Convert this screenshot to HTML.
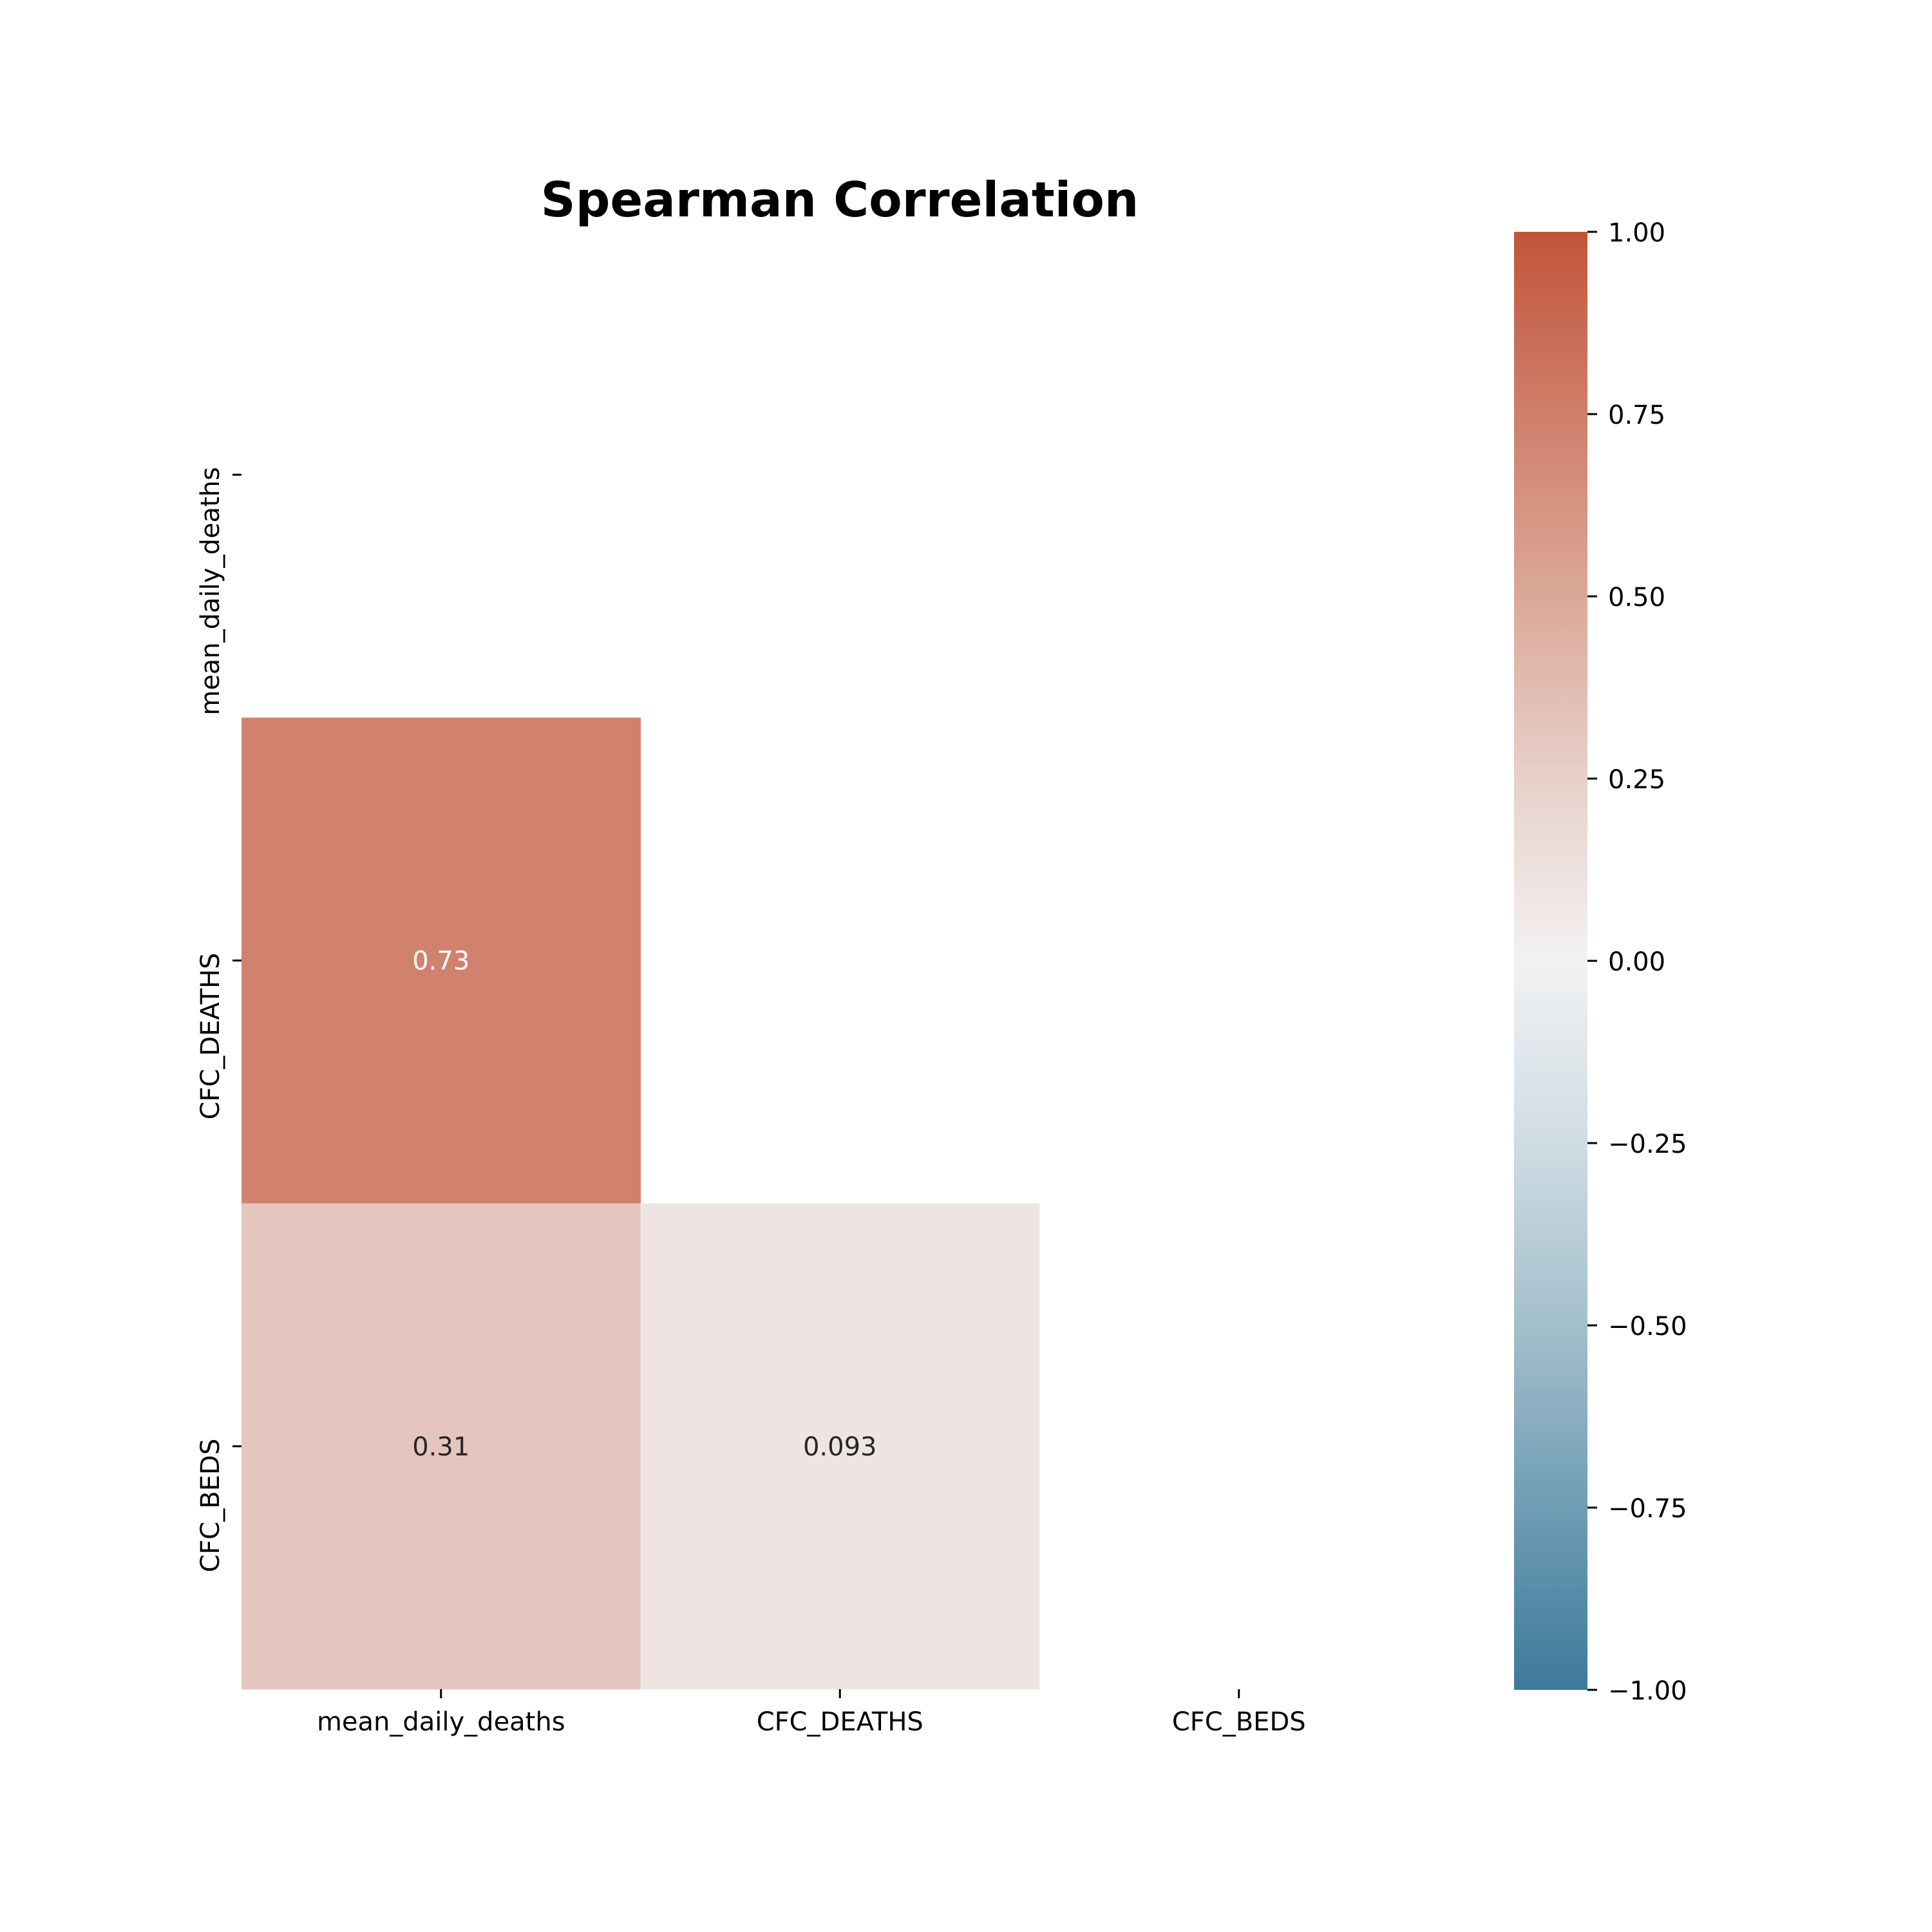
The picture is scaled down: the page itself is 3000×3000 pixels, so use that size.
<!DOCTYPE html>
<html><head><meta charset="utf-8"><style>
html,body{margin:0;padding:0;background:#fff;}
svg{display:block;font-family:"DejaVu Sans","Liberation Sans",sans-serif;}
</style></head>
<body>
<svg id="chart" width="3000" height="3000" viewBox="0 0 3000 3000" xmlns="http://www.w3.org/2000/svg">
<rect width="3000" height="3000" fill="#fff"/>
<text x="1304" y="336" text-anchor="middle" font-size="75" font-weight="bold" fill="#000">Spearman Correlation</text>
<defs>
<linearGradient id="cbgrad" x1="0" y1="1" x2="0" y2="0">
<stop offset="0" stop-color="#3d7a9a"/>
<stop offset="0.125" stop-color="#6f9db4"/>
<stop offset="0.25" stop-color="#a3bfcc"/>
<stop offset="0.375" stop-color="#cfdce3"/>
<stop offset="0.5" stop-color="#f2f2f2"/>
<stop offset="0.625" stop-color="#e8d0ca"/>
<stop offset="0.75" stop-color="#dba897"/>
<stop offset="0.875" stop-color="#cf7f6b"/>
<stop offset="1" stop-color="#c2553a"/>
</linearGradient>
</defs>
<g id="cells"></g>
<g id="axes"></g>
<g id="colorbar"></g>
</svg>
<script>
const labels = ["mean_daily_deaths", "CFC_DEATHS", "CFC_BEDS"];
const cellRows = [1, 2, 2];
const cellCols = [0, 0, 1];
const cellValues = [0.73, 0.31, 0.093];
const cellText = ["0.73", "0.31", "0.093"];
const cbTicks = [1.0, 0.75, 0.5, 0.25, 0, -0.25, -0.5, -0.75, -1.0];
const cbTickLabels = ["1.00", "0.75", "0.50", "0.25", "0.00", "\u22120.25", "\u22120.50", "\u22120.75", "\u22121.00"];

const NS = "http://www.w3.org/2000/svg";
const gx0 = 375, gy0 = 360, cw = 619.5, ch = 754.3;
const cbx = 2351, cbw = 114, cby0 = 360, cby1 = 2624;
function xPos(c){ return gx0 + c * cw; }
function yPos(r){ return gy0 + r * ch; }
function cbY(v){ return cby1 - (v + 1) / 2 * (cby1 - cby0); }

const stops = [[-1,[61,122,154]],[-0.75,[111,157,180]],[-0.5,[163,191,204]],[-0.25,[207,220,227]],[0,[242,242,242]],[0.25,[232,208,202]],[0.5,[219,168,151]],[0.75,[207,127,107]],[1,[194,85,58]]];
function color(v){
  for (let i=0;i<stops.length-1;i++){
    const a=stops[i], b=stops[i+1];
    if (v>=a[0] && v<=b[0]){
      const t=(v-a[0])/(b[0]-a[0]);
      const c=a[1].map((x,k)=>Math.round(x+(b[1][k]-x)*t));
      return "rgb("+c.join(",")+")";
    }
  }
  return v>0?"rgb(194,85,58)":"rgb(61,122,154)";
}
function mk(tag, attrs, parent){
  const el=document.createElementNS(NS,tag);
  for (const k in attrs) el.setAttribute(k, attrs[k]);
  parent.appendChild(el);
  return el;
}
const cells=document.getElementById("cells");
cellValues.forEach((v,i)=>{
  const r=mk("rect",{x:xPos(cellCols[i]),y:yPos(cellRows[i]),width:cw+0.5,height:ch+0.5,fill:color(v)},cells);
  
  
  const t=mk("text",{x:xPos(cellCols[i])+cw/2,y:yPos(cellRows[i])+ch/2+14,"text-anchor":"middle","font-size":40,fill:(v>0.5?"#ffffff":"#262626")},cells);
  t.textContent=cellText[i];
  
  
});
const axes=document.getElementById("axes");
labels.forEach((lab,i)=>{
  const cx=xPos(i)+cw/2;
  const tk=mk("line",{x1:cx,y1:gy0+3*ch,x2:cx,y2:gy0+3*ch+14,stroke:"#000","stroke-width":3},axes);
  
  
  const t=mk("text",{x:cx,y:2687,"text-anchor":"middle","font-size":40,fill:"#000"},axes);
  t.textContent=lab;
  
  
  const cy=yPos(i)+ch/2;
  const tk2=mk("line",{x1:gx0-14,y1:cy,x2:gx0,y2:cy,stroke:"#000","stroke-width":3},axes);
  
  
  const t2=mk("text",{x:0,y:0,"text-anchor":"end","font-size":40,fill:"#000",transform:"translate(340,"+(cy-12)+") rotate(-90)"},axes);
  t2.textContent=lab;
  
  
});
const cb=document.getElementById("colorbar");
const bar=mk("rect",{x:cbx,y:cby0,width:cbw,height:cby1-cby0,fill:"url(#cbgrad)"},cb);


cbTicks.forEach((v,i)=>{
  const y=cbY(v);
  const tk=mk("line",{x1:cbx+cbw,y1:y,x2:cbx+cbw+15,y2:y,stroke:"#000","stroke-width":3},cb);
  
  
  const t=mk("text",{x:2497,y:y+15,"font-size":40,fill:"#000"},cb);
  t.textContent=cbTickLabels[i];
  
  
});
</script>
</body></html>
